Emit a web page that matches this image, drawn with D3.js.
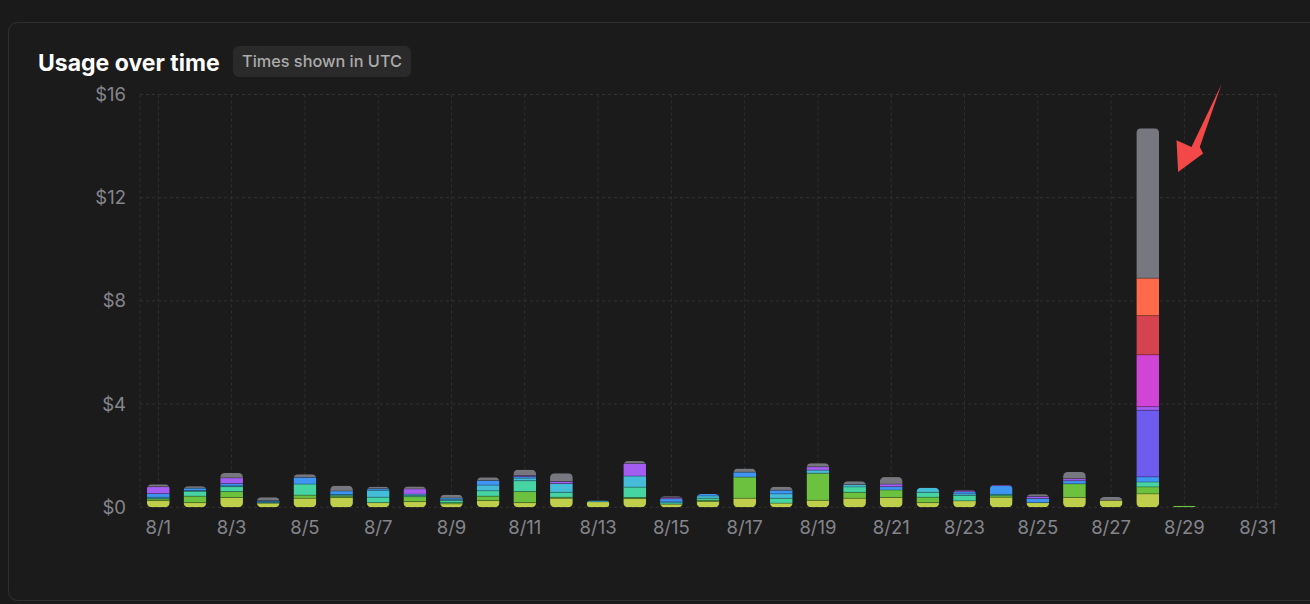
<!DOCTYPE html>
<html>
<head>
<meta charset="utf-8">
<script src="https://cdn.jsdelivr.net/npm/d3@7"></script>
<style>
  html, body { margin: 0; padding: 0; background: #1a1a1a; }
  svg { display: block; font-family: Inter, "Noto Sans", sans-serif; }
</style>
</head>
<body>
<div id="usage-chart"></div>
<script>
// days of August shown on the x axis
const days = d3.range(1, 32).map((d) => `8/${d}`);

// stacked series, bottom to top
const lime    = [0.26,0.18,0.38,0.16,0.35,0.38,0.18,0.22,0.13,0.26,0.18,0.35,0.21,0.34,0.12,0.23,0.35,0.16,0.27,0.35,0.38,0.18,0.25,0.39,0.18,0.38,0.27,0.52,0,0,0];
const green   = [0.06,0.25,0.23,0,0.12,0.05,0,0.19,0.05,0.17,0.43,0.04,0,0.04,0,0.04,0.82,0,1.05,0.23,0.29,0.21,0,0.06,0,0.53,0,0.27,0.06,0,0];
const teal    = [0.03,0.19,0.19,0.02,0.43,0.04,0.21,0.04,0.08,0.21,0.42,0.19,0,0.40,0.05,0.08,0,0.19,0,0.21,0,0.19,0.21,0.05,0,0,0,0.19,0,0,0];
const cyan    = [0.04,0.03,0.03,0.04,0,0.03,0.27,0.06,0.05,0.22,0.10,0.34,0.05,0.43,0.04,0.09,0,0.17,0.12,0.09,0,0.18,0.06,0,0,0,0,0,0,0,0];
const blue    = [0.14,0.09,0.09,0.04,0.26,0.13,0.06,0,0.05,0.18,0.06,0,0,0,0.12,0.08,0.19,0.14,0,0,0.13,0,0.08,0.34,0.16,0.12,0,0.20,0,0,0];
const indigo  = [0,0,0,0,0,0,0,0,0,0,0,0,0,0,0,0,0,0,0,0,0,0,0,0,0,0,0,2.58,0,0,0];
const purple  = [0.27,0,0.22,0,0,0,0,0.20,0,0,0.04,0.08,0,0.49,0.05,0,0,0,0.13,0,0.10,0,0.05,0.03,0.08,0.08,0,0.14,0,0,0];
const magenta = [0,0,0,0,0,0,0,0,0,0,0,0,0,0,0,0,0,0,0,0,0,0,0,0,0,0,0,2.01,0,0,0];
const red     = [0,0,0,0,0,0,0,0,0,0,0,0,0,0,0,0,0,0,0,0,0,0,0,0,0,0,0,1.52,0,0,0];
const orange  = [0,0,0,0,0,0,0,0,0,0,0,0,0,0,0,0,0,0,0,0,0,0,0,0,0,0,0,1.45,0,0,0];
const gray    = [0.09,0.08,0.19,0.13,0.12,0.21,0.08,0.10,0.13,0.12,0.23,0.32,0,0.09,0.05,0,0.14,0.14,0.14,0.13,0.27,0,0.03,0,0.09,0.26,0.13,5.81,0,0,0];

const seriesKeys = ["lime","green","teal","cyan","blue","indigo","purple","magenta","red","orange","gray"];
const seriesColors = ["#c0cf4b","#6cc13f","#47d4a3","#45bcd8","#3f96f2","#6e5cef","#a35df0","#d044d6","#d4434f","#ff6b4a","#77777f"];
const seriesValues = [lime, green, teal, cyan, blue, indigo, purple, magenta, red, orange, gray];

const yTicks = [0, 4, 8, 12, 16];
const xTickLabels = days.filter((_, i) => i % 2 === 0);

const width = 1310, height = 604;
const plot = { left: 140, right: 1276, top: 94.5, bottom: 507.3 };

const table = days.map((day, i) => {
  const row = { day };
  seriesKeys.forEach((k, j) => (row[k] = seriesValues[j][i]));
  return row;
});
const stacked = d3.stack().keys(seriesKeys)(table);

const svg = d3.select("#usage-chart")
  .append("svg")
  .attr("width", width)
  .attr("height", height);

// card
svg.append("rect")
  .attr("x", 8.5).attr("y", 22.5)
  .attr("width", 1330).attr("height", 578)
  .attr("rx", 9)
  .attr("fill", "#1b1b1b")
  .attr("stroke", "#303030");

svg.append("text")
  .attr("x", 38).attr("y", 71)
  .attr("fill", "#ffffff")
  .attr("font-size", 23)
  .attr("font-weight", 700)
  .text("Usage over time");

svg.append("rect")
  .attr("x", 233).attr("y", 46)
  .attr("width", 178).attr("height", 31)
  .attr("rx", 6)
  .attr("fill", "#2a2a2a");
svg.append("text")
  .attr("x", 242).attr("y", 67)
  .attr("fill", "#ababab")
  .attr("font-size", 16.3)
  .attr("font-weight", 500)
  .text("Times shown in UTC");

const x = d3.scaleBand()
  .domain(days)
  .range([plot.left, plot.right])
  .paddingInner(0.38)
  .paddingOuter(0.19);
const y = d3.scaleLinear().domain([0, 16]).range([plot.bottom, plot.top]);

// grid
const grid = svg.append("g")
  .attr("stroke", "#323232")
  .attr("stroke-dasharray", "3,3");
grid.selectAll(".hgrid")
  .data(yTicks)
  .enter()
  .append("line")
  .attr("x1", plot.left).attr("x2", plot.right)
  .attr("y1", (d) => y(d)).attr("y2", (d) => y(d));
const vx = [plot.left, ...xTickLabels.map((d) => x(d) + x.bandwidth() / 2), plot.right];
grid.selectAll(".vgrid")
  .data(vx)
  .enter()
  .append("line")
  .attr("x1", (d) => d).attr("x2", (d) => d)
  .attr("y1", plot.top).attr("y2", plot.bottom);

// axes
const yAxis = svg.append("g")
  .attr("transform", `translate(${plot.left},0)`)
  .call(d3.axisLeft(y).tickValues(yTicks).tickSize(0).tickPadding(14).tickFormat((d) => `$${d}`));
const xAxis = svg.append("g")
  .attr("transform", `translate(0,${plot.bottom})`)
  .call(d3.axisBottom(x).tickValues(xTickLabels).tickSize(0).tickPadding(14));
[xAxis, yAxis].forEach((ax) => {
  ax.select(".domain").remove();
  ax.selectAll("text")
    .attr("fill", "#85858c")
    .attr("font-size", 18.5)
    .attr("font-family", "Inter, sans-serif");
});

// bars, clipped to a rounded rect per day
const defs = svg.append("defs");
const totals = table.map((row) => d3.sum(seriesKeys, (k) => row[k]));
days.forEach((day, i) => {
  if (!totals[i]) return;
  defs.append("clipPath")
    .attr("id", `clip-${i}`)
    .append("rect")
    .attr("x", x(day))
    .attr("y", y(totals[i]))
    .attr("width", x.bandwidth())
    .attr("height", y(0) - y(totals[i]))
    .attr("rx", 4.5);
});

const bars = svg.append("g");
stacked.forEach((layer, j) => {
  bars.append("g")
    .selectAll("rect")
    .data(layer.map((seg, i) => ({ seg, i })).filter((d) => d.seg[1] - d.seg[0] > 0))
    .enter()
    .append("rect")
    .attr("clip-path", (d) => `url(#clip-${d.i})`)
    .attr("x", (d) => x(days[d.i]))
    .attr("y", (d) => y(d.seg[1]))
    .attr("width", x.bandwidth())
    .attr("height", (d) => y(d.seg[0]) - y(d.seg[1]))
    .attr("fill", seriesColors[j]);
});
// thin separators between segments
stacked.forEach((layer) => {
  bars.append("g")
    .selectAll("line")
    .data(layer.map((seg, i) => ({ seg, i })).filter((d) => d.seg[1] - d.seg[0] > 0 && d.seg[1] < totals[d.i] - 1e-6))
    .enter()
    .append("line")
    .attr("clip-path", (d) => `url(#clip-${d.i})`)
    .attr("x1", (d) => x(days[d.i]))
    .attr("x2", (d) => x(days[d.i]) + x.bandwidth())
    .attr("y1", (d) => y(d.seg[1]))
    .attr("y2", (d) => y(d.seg[1]))
    .attr("stroke", "rgba(0,0,0,0.28)")
    .attr("stroke-width", 1);
});

// red annotation arrow pointing at the 8/28 spike
const tipX = x("8/28") + x.bandwidth() + 19;
const tipY = y(13.0);
const arrowShape = [[0,0],[-1.6,-31.7],[13.4,-25],[43.4,-87.7],[21.7,-25],[25,-18.4]];
svg.append("path")
  .attr("d", d3.line()(arrowShape.map(([dx, dy]) => [tipX + dx, tipY + dy])) + "Z")
  .attr("fill", "#f24848");
</script>
</body>
</html>
